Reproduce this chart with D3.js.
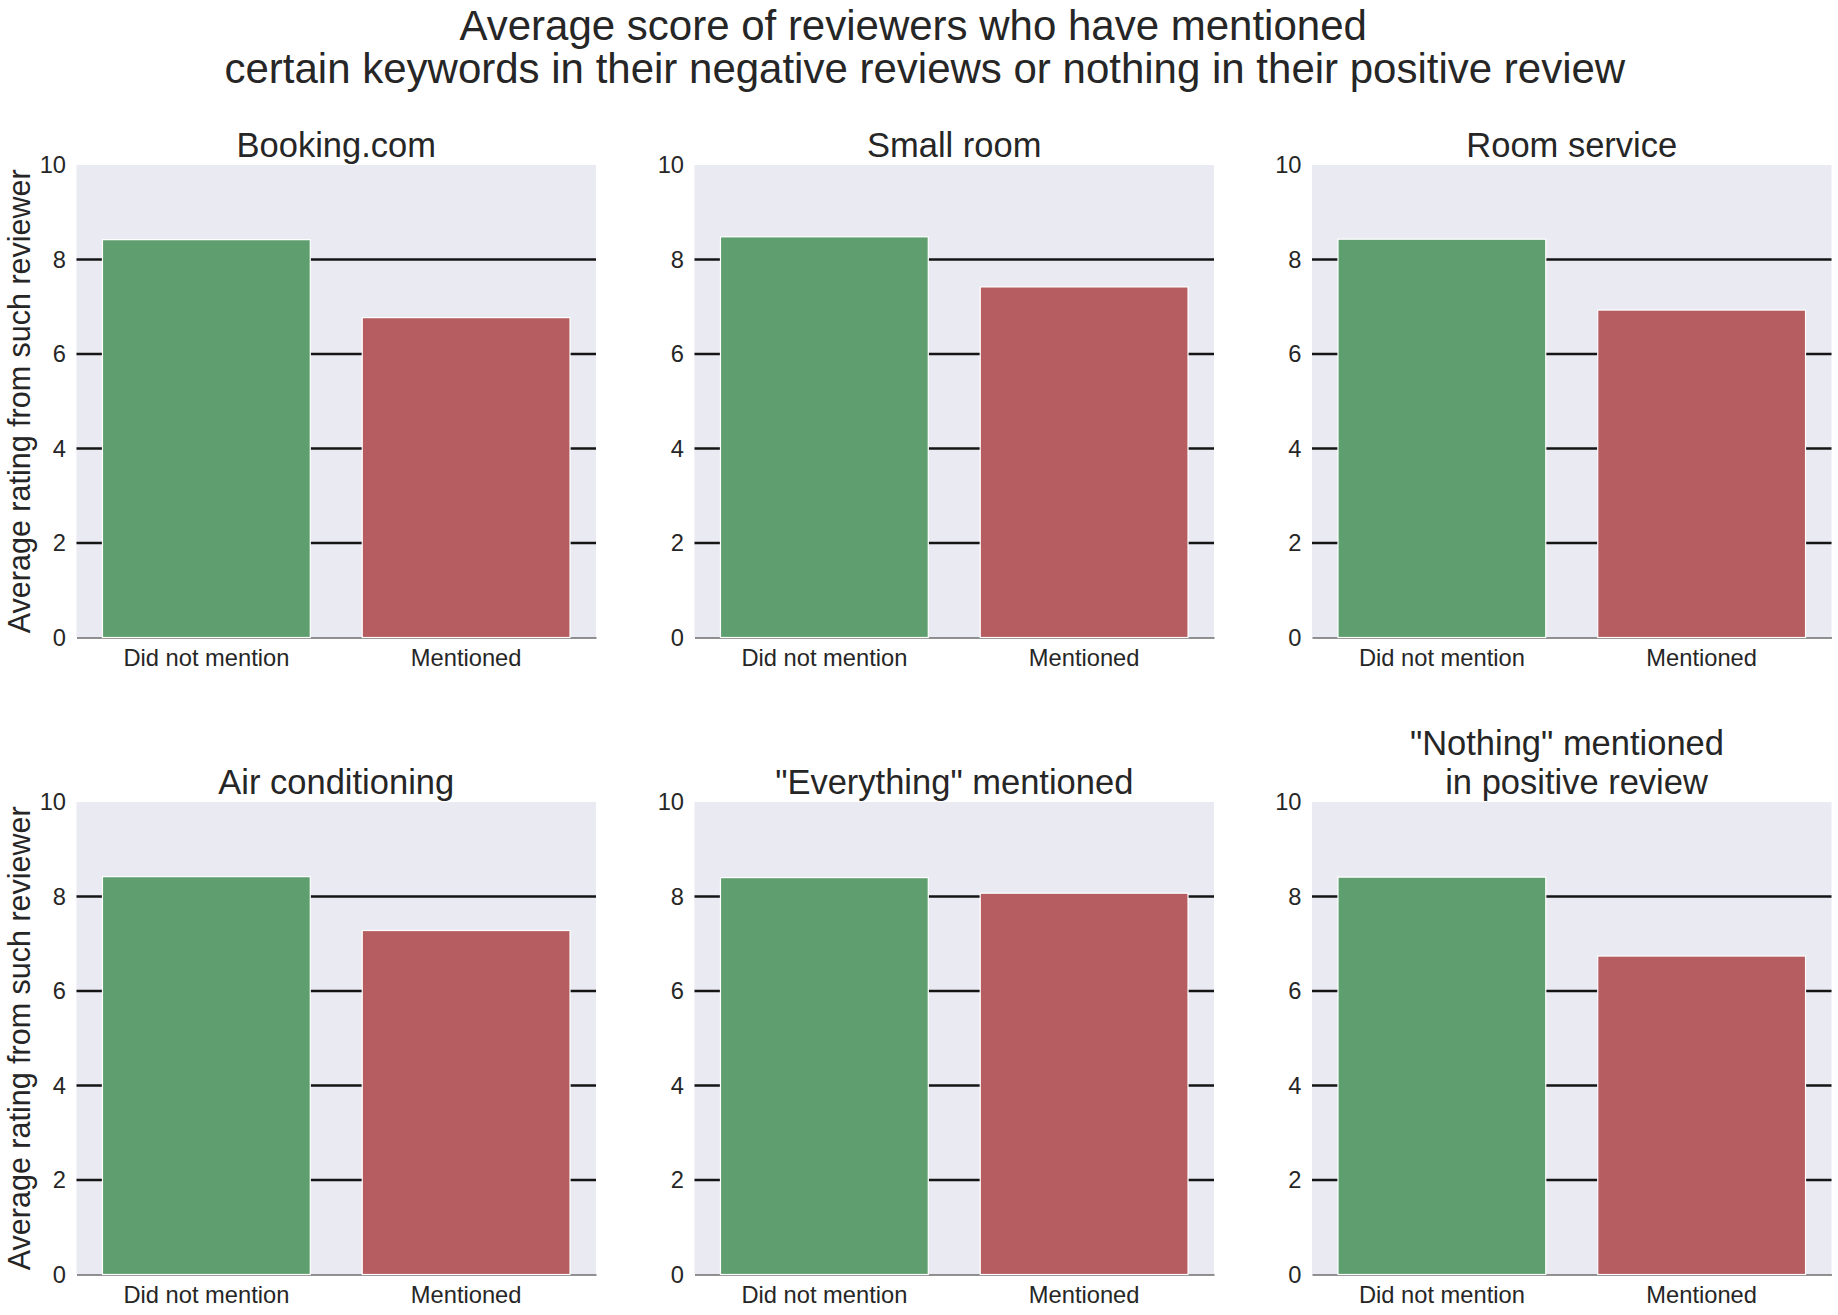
<!DOCTYPE html>
<html>
<head>
<meta charset="utf-8">
<script src="https://cdn.jsdelivr.net/npm/d3@7"></script>
<style>
  html, body { margin: 0; padding: 0; background: #ffffff; }
  svg text { font-family: "Liberation Sans", Arial, sans-serif; fill: #262626; white-space: pre; }
</style>
</head>
<body>
<svg id="chart" width="1838" height="1315"></svg>
<script>
// ---- data ----
const suptitleLines = ["Average score of reviewers who have mentioned ", " certain keywords in their negative reviews or nothing in their positive review"];
const panelTitles = [
  ["Booking.com"],
  ["Small room"],
  ["Room service"],
  ["Air conditioning"],
  ["\"Everything\" mentioned"],
  ["\"Nothing\" mentioned ", " in positive review"]
];
const categories = ["Did not mention", "Mentioned"];
const didNotMention = [8.42, 8.48, 8.43, 8.42, 8.40, 8.41];
const mentioned = [6.77, 7.42, 6.93, 7.28, 8.07, 6.74];
const yTicks = [0, 2, 4, 6, 8, 10];
const gridValues = [2, 4, 6, 8];
const yLabel = "Average rating from such reviewer";
const barColors = ["#5f9e6e", "#b55d60"];

// ---- layout ----
const colLeft = [76.5, 694.5, 1312];
const rowTop = [165, 802];
const W = 519.5, H = 472.5;

const svg = d3.select("#chart");
svg.append("rect").attr("width", 1838).attr("height", 1315).attr("fill", "#ffffff");

// suptitle
const st = svg.append("text").attr("text-anchor", "middle").attr("font-size", 42);
suptitleLines.forEach((l, i) => {
  st.append("tspan").attr("x", 919).attr("y", 40 + i * 43).text(l);
});

const x = d3.scaleBand().domain(categories).range([0, W]).paddingInner(0.2).paddingOuter(0.1);
const y = d3.scaleLinear().domain([0, 10]).range([H, 0]);

panelTitles.forEach((title, i) => {
  const col = i % 3, row = Math.floor(i / 3);
  const g = svg.append("g").attr("transform", `translate(${colLeft[col]},${rowTop[row]})`);
  g.append("rect").attr("width", W).attr("height", H).attr("fill", "#eaeaf2");

  // grid lines
  g.selectAll("line.grid").data(gridValues).enter().append("line")
    .attr("class", "grid")
    .attr("x1", 0).attr("x2", W)
    .attr("y1", d => y(d)).attr("y2", d => y(d))
    .attr("stroke", "#151515").attr("stroke-width", 2.5);

  // x axis (baseline)
  const xa = g.append("g").attr("transform", `translate(0,${H})`)
    .call(d3.axisBottom(x).tickSize(0).tickPadding(11.7));
  xa.select(".domain").attr("stroke", "#262626").attr("stroke-width", 1.2);
  xa.selectAll("text").attr("font-size", 23.7).attr("fill", "#262626");

  // y axis
  const ya = g.append("g").call(d3.axisLeft(y).tickValues(yTicks).tickSize(0).tickPadding(10.5));
  ya.select(".domain").remove();
  ya.selectAll("text").attr("font-size", 23.7).attr("fill", "#262626");

  // bars
  const vals = [didNotMention[i], mentioned[i]];
  g.selectAll("rect.bar").data(categories).enter().append("rect")
    .attr("class", "bar")
    .attr("x", d => x(d))
    .attr("width", x.bandwidth())
    .attr("y", (d, j) => y(vals[j]))
    .attr("height", (d, j) => H - y(vals[j]))
    .attr("fill", (d, j) => barColors[j])
    .attr("stroke", "#ffffff").attr("stroke-width", 1.2);

  // title
  const t = g.append("text").attr("text-anchor", "middle").attr("font-size", 34.5);
  title.forEach((l, k) => {
    t.append("tspan").attr("x", W / 2).attr("y", -8 - (title.length - 1 - k) * 39).text(l);
  });

  // y label
  if (col === 0) {
    g.append("text").attr("text-anchor", "middle").attr("font-size", 30.5)
      .attr("transform", `translate(${29.5 - colLeft[0]},${H / 2}) rotate(-90)`)
      .text(yLabel);
  }
});
</script>
</body>
</html>
